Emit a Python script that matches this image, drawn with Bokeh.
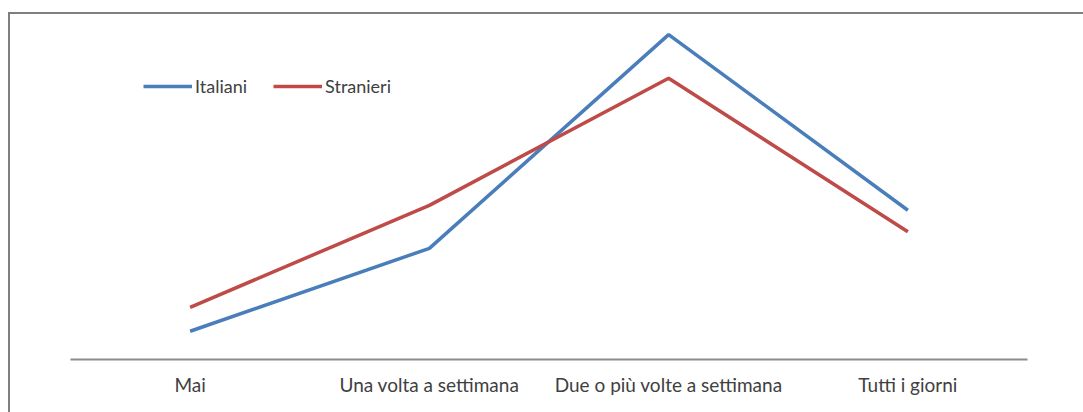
from bokeh.plotting import figure
from bokeh.models import Legend, LegendItem, Range1d, FactorRange
from bokeh.embed import file_html
from bokeh.resources import INLINE

categories = ["Mai", "Una volta a settimana", "Due o più volte a settimana", "Tutti i giorni"]
italiani = [4.6, 18.1, 52.9, 24.3]
stranieri = [8.5, 25.1, 45.8, 20.8]
series_names = ["Italiani", "Stranieri"]

FONT = "Lato"
TEXT_COLOR = "#404040"

p = figure(
    x_range=FactorRange(factors=categories, range_padding=0),
    y_range=Range1d(0, 55.2),
    frame_width=957, frame_height=339,
    min_border_left=60, min_border_right=56, min_border_top=6, min_border_bottom=53,
    output_backend="svg", toolbar_location=None, y_axis_location=None,
)
p.styles = {"border-left": "2px solid #7f7f7f", "border-top": "2px solid #7f7f7f",
            "margin-top": "12px", "margin-left": "8px"}
p.outline_line_color = None
p.xgrid.visible = False
p.ygrid.visible = False

ax = p.xaxis[0]
ax.axis_line_color = "#8c8c8c"
ax.axis_line_width = 2
ax.major_tick_line_color = None
ax.minor_tick_line_color = None
ax.major_label_text_font = FONT
ax.major_label_text_font_size = "19px"
ax.major_label_text_color = TEXT_COLOR
ax.major_label_standoff = 7

r1 = p.line(categories, italiani, line_color="#4a7ebb", line_width=3.5)
r2 = p.line(categories, stranieri, line_color="#be4b48", line_width=3.5)

legend = Legend(
    items=[LegendItem(label=series_names[0], renderers=[r1]),
           LegendItem(label=series_names[1], renderers=[r2])],
    orientation="horizontal", location=(73, 262),
    padding=0, margin=0, spacing=26, label_standoff=3,
    glyph_width=49, glyph_height=20, label_height=20,
    label_text_font=FONT, label_text_font_size="18px", label_text_color=TEXT_COLOR,
    background_fill_alpha=0, border_line_color=None,
)
p.add_layout(legend)

open("out.html", "w").write(file_html(p, INLINE))
